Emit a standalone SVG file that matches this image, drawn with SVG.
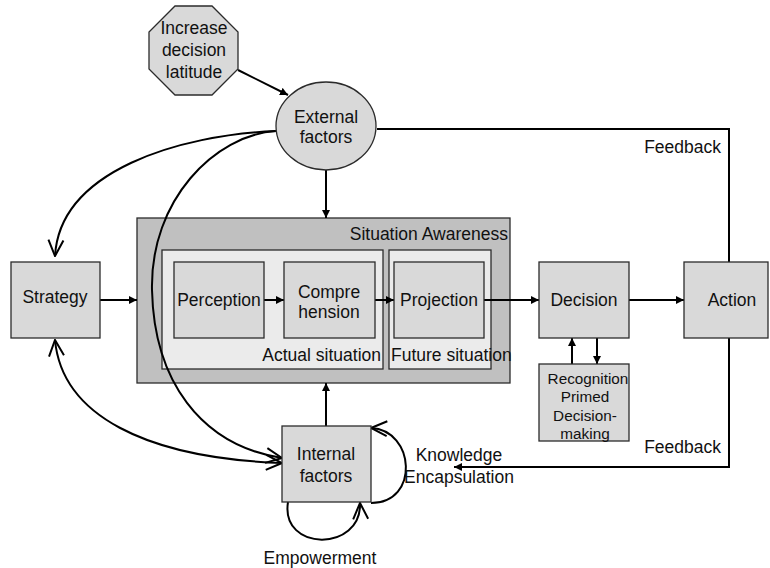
<svg xmlns="http://www.w3.org/2000/svg" width="770" height="568" viewBox="0 0 770 568">
  <style>
    .box { fill: #d9d9d9; stroke: #2b2b2b; stroke-width: 1.3; }
    .outer { fill: #c0c0c0; stroke: #2b2b2b; stroke-width: 1.3; }
    .inner { fill: #ebebeb; stroke: #2b2b2b; stroke-width: 1.3; }
    .t { font-family: "Liberation Sans", Arial, sans-serif; font-size: 17.5px; fill: #111; }
    .s { font-family: "Liberation Sans", Arial, sans-serif; font-size: 15.3px; fill: #111; }
    .c { text-anchor: middle; }
    .e { text-anchor: end; }
    .ln { fill: none; stroke: #000; stroke-width: 2; }
  </style>
  <defs>
    <marker id="fill" viewBox="0 0 10 10" refX="10" refY="5" markerWidth="4" markerHeight="4" orient="auto" markerUnits="strokeWidth">
      <path d="M0,0 L10,5 L0,10 z" fill="#000"/>
    </marker>
    <marker id="open" viewBox="0 0 18 18" refX="17" refY="9" markerWidth="9" markerHeight="9" orient="auto" markerUnits="strokeWidth">
      <path d="M1,1.5 L17,9 L1,16.5" fill="none" stroke="#000" stroke-width="2"/>
    </marker>
    <marker id="openStart" viewBox="0 0 18 18" refX="1" refY="9" markerWidth="9" markerHeight="9" orient="auto" markerUnits="strokeWidth">
      <path d="M17,1.5 L1,9 L17,16.5" fill="none" stroke="#000" stroke-width="2"/>
    </marker>
  </defs>

  <!-- Situation Awareness container -->
  <g id="situation-awareness">
    <rect class="outer" x="137" y="218" width="373" height="165"/>
    <text class="t e" x="508" y="240">Situation Awareness</text>
    <rect class="inner" x="162" y="250" width="221" height="119"/>
    <text class="t e" x="381" y="361">Actual situation</text>
    <rect class="inner" x="389" y="250" width="102" height="119"/>
    <text class="t" x="391" y="361">Future situation</text>
  </g>

  <!-- Connectors -->
  <g id="connectors">
    <line class="ln" x1="238" y1="70" x2="288" y2="95" marker-end="url(#fill)"/>
    <polyline class="ln" points="377,129 729,129 729,262"/>
    <polyline class="ln" points="729,338 729,467 454,467" marker-end="url(#fill)"/>
    <line class="ln" x1="326" y1="170" x2="326" y2="218" marker-end="url(#fill)"/>
    <line class="ln" x1="326" y1="426" x2="326" y2="383" marker-end="url(#fill)"/>
    <line class="ln" x1="100" y1="300" x2="137" y2="300" marker-end="url(#fill)"/>
    <line class="ln" x1="264" y1="300" x2="284" y2="300" marker-end="url(#fill)"/>
    <line class="ln" x1="375" y1="300" x2="394" y2="300" marker-end="url(#fill)"/>
    <line class="ln" x1="484" y1="300" x2="539" y2="300" marker-end="url(#fill)"/>
    <line class="ln" x1="629" y1="300" x2="684" y2="300" marker-end="url(#fill)"/>
    <line class="ln" x1="572" y1="364" x2="572" y2="338" marker-end="url(#fill)"/>
    <line class="ln" x1="597" y1="338" x2="597" y2="364" marker-end="url(#fill)"/>
    <path class="ln" d="M276,131 C180,135 60,170 55,256" marker-end="url(#open)"/>
    <path class="ln" d="M276,131 C215,135 150,200 152,290 C154,380 200,445 282,458" marker-end="url(#open)"/>
    <path class="ln" d="M55,340 C62,415 145,458 282,463" marker-start="url(#openStart)" marker-end="url(#open)"/>
    <path class="ln" d="M371,503 C420,503 415,430 371,428" marker-end="url(#open)"/>
    <path class="ln" d="M288,502 C280,552 362,552 360,503" marker-end="url(#open)"/>
    <text class="t e" x="721" y="153">Feedback</text>
    <text class="t e" x="721" y="453">Feedback</text>
    <text class="t c" x="459" y="461">Knowledge</text>
    <text class="t c" x="459" y="483">Encapsulation</text>
    <text class="t c" x="320" y="564">Empowerment</text>
  </g>

  <g id="increase-latitude">
    <polygon class="box" points="175,6 212,6 238,32 238,69 212,95 175,95 149,69 149,32"/>
    <text class="t c" x="194" y="34">Increase</text>
    <text class="t c" x="194" y="56">decision</text>
    <text class="t c" x="194" y="78">latitude</text>
  </g>

  <g id="external-factors">
    <ellipse class="box" cx="326" cy="126" rx="50" ry="44"/>
    <text class="t c" x="326" y="123">External</text>
    <text class="t c" x="326" y="143">factors</text>
  </g>

  <g id="strategy">
    <rect class="box" x="11" y="262" width="89" height="76"/>
    <text class="t c" x="55" y="303">Strategy</text>
  </g>

  <g id="perception">
    <rect class="box" x="174" y="262" width="90" height="76"/>
    <text class="t c" x="219" y="306">Perception</text>
  </g>

  <g id="comprehension">
    <rect class="box" x="284" y="262" width="91" height="76"/>
    <text class="t c" x="329" y="298">Compre</text>
    <text class="t c" x="329" y="318">hension</text>
  </g>

  <g id="projection">
    <rect class="box" x="394" y="262" width="90" height="76"/>
    <text class="t c" x="439" y="306">Projection</text>
  </g>

  <g id="decision">
    <rect class="box" x="539" y="262" width="90" height="76"/>
    <text class="t c" x="584" y="306">Decision</text>
  </g>

  <g id="action">
    <rect class="box" x="684" y="262" width="84" height="76"/>
    <text class="t c" x="732" y="306">Action</text>
  </g>

  <g id="rpd">
    <rect class="box" x="539" y="364" width="90" height="77"/>
    <text class="s c" x="588" y="384">Recognition</text>
    <text class="s c" x="585" y="402">Primed</text>
    <text class="s c" x="585" y="421">Decision-</text>
    <text class="s c" x="585" y="439">making</text>
  </g>

  <g id="internal-factors">
    <rect class="box" x="282" y="426" width="89" height="76"/>
    <text class="t c" x="326" y="460">Internal</text>
    <text class="t c" x="326" y="482">factors</text>
  </g>
</svg>
